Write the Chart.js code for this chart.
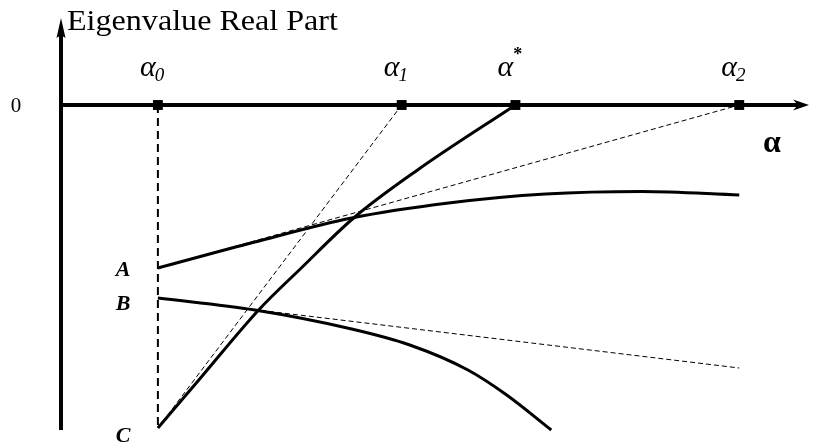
<!DOCTYPE html>
<html>
<head>
<meta charset="utf-8">
<script src="https://cdn.jsdelivr.net/npm/chart.js@4.4.0/dist/chart.umd.min.js"></script>
<style>
  html, body { margin: 0; padding: 0; background: #fff; }
  #wrap { width: 816px; height: 448px; }
</style>
</head>
<body>
<div id="wrap"><canvas id="eigChart"></canvas></div>
<script>
// critical values of alpha on the horizontal axis
const alphaMarks = [1.0, 2.258, 2.845, 4.0];
const alphaIndex = ["0", "1", "*", "2"];

// branch A (starts at A, levels off)
const alphaA = [1.0, 1.5, 2.0, 2.5, 3.0, 3.5, 4.0];
const realA = [-1.63, -1.37, -1.13, -0.98, -0.89, -0.865, -0.90];

// branch B (starts at B, falls away)
const alphaB = [1.0, 1.5, 2.0, 2.3, 2.6, 2.8, 3.03];
const realB = [-1.93, -2.05, -2.24, -2.40, -2.65, -2.90, -3.25];

// branch C (starts at C, crosses zero at alpha*)
const alphaC = [1.0, 1.22, 1.52, 1.74, 2.01, 2.34, 2.845];
const realC = [-3.23, -2.73, -2.05, -1.63, -1.13, -0.65, 0];

// linear estimates from the starting slopes
const tangentA = { alpha: [1.0, 4.0], real: [-1.63, 0] };
const tangentB = { alpha: [1.0, 4.0], real: [-1.93, -2.63] };
const tangentC = { alpha: [1.0, 2.258], real: [-3.23, 0] };

const startLabels = ["A", "B", "C"];

const pts = (xs, ys) => xs.map((x, i) => ({ x: x, y: ys[i] }));

const serif = "'Liberation Serif', 'Times New Roman', serif";

function curve(data) {
  return {
    data: data,
    showLine: true,
    borderColor: "#000",
    borderWidth: 3,
    pointRadius: 0,
    cubicInterpolationMode: "monotone",
    clip: false
  };
}

function dashed(data, width, dash) {
  return {
    data: data,
    showLine: true,
    borderColor: "#000",
    borderWidth: width,
    borderDash: dash,
    pointRadius: 0,
    tension: 0,
    clip: false
  };
}

// axes with arrow heads, plus all the text labels
const axesPlugin = {
  id: "axes",
  beforeDatasetsDraw(chart) {
    const { ctx, scales: { x, y } } = chart;
    const x0 = x.getPixelForValue(0.5);
    const yZero = y.getPixelForValue(0);
    const xEnd = x.getPixelForValue(4.36);
    const yTop = y.getPixelForValue(0.87);
    const yBottom = y.getPixelForValue(-3.25);
    ctx.save();
    ctx.strokeStyle = "#000";
    ctx.fillStyle = "#000";
    ctx.lineWidth = 4;
    ctx.beginPath();
    ctx.moveTo(x0, yBottom);
    ctx.lineTo(x0, yTop + 10);
    ctx.moveTo(x0, yZero);
    ctx.lineTo(xEnd - 8, yZero);
    ctx.stroke();
    // vertical arrow
    ctx.beginPath();
    ctx.moveTo(x0, yTop);
    ctx.lineTo(x0 + 4.5, yTop + 20);
    ctx.lineTo(x0, yTop + 17);
    ctx.lineTo(x0 - 4.5, yTop + 20);
    ctx.closePath();
    ctx.fill();
    // horizontal arrow
    ctx.beginPath();
    ctx.moveTo(xEnd, yZero);
    ctx.lineTo(xEnd - 16, yZero - 5.5);
    ctx.lineTo(xEnd - 11, yZero);
    ctx.lineTo(xEnd - 16, yZero + 5.5);
    ctx.closePath();
    ctx.fill();
    ctx.restore();
  },
  afterDraw(chart) {
    const { ctx, scales: { x, y } } = chart;
    const yZero = y.getPixelForValue(0);
    ctx.save();
    ctx.fillStyle = "#000";
    ctx.textBaseline = "alphabetic";

    ctx.save();
    ctx.font = "30px " + serif;
    ctx.textAlign = "left";
    ctx.translate(67, 30);
    ctx.scale(1.07, 1);
    ctx.fillText("Eigenvalue Real Part", 0, 0);
    ctx.restore();

    ctx.font = "21px " + serif;
    ctx.textAlign = "center";
    ctx.fillText("0", 16, yZero + 7);

    // alpha labels over the marks
    alphaMarks.forEach((a, i) => {
      const px = x.getPixelForValue(a);
      ctx.font = "italic 30px " + serif;
      const w = ctx.measureText("\u03b1").width;
      const cx = px - 10;
      ctx.textAlign = "center";
      ctx.fillText("\u03b1", cx, 76);
      ctx.textAlign = "left";
      if (alphaIndex[i] === "*") {
        ctx.font = "bold 18px " + serif;
        ctx.fillText("*", cx + w / 2, 60);
      } else {
        ctx.font = "italic 19px " + serif;
        ctx.fillText(alphaIndex[i], cx + w / 2 - 1, 81);
      }
    });

    ctx.font = "bold 32px " + serif;
    ctx.textAlign = "center";
    ctx.fillText("\u03b1", 772, 152);

    // start-point letters beside the dashed line
    const starts = [realA[0], realB[0], realC[0]];
    const offs = [8, 12, 14];
    ctx.font = "bold italic 22px " + serif;
    starts.forEach((r, i) => {
      ctx.fillText(startLabels[i], 123, y.getPixelForValue(r) + offs[i]);
    });
    ctx.restore();
  }
};

const chart = new Chart(document.getElementById("eigChart"), {
  type: "scatter",
  data: {
    datasets: [
      dashed([{ x: alphaMarks[0], y: 0 }, { x: alphaMarks[0], y: realC[0] }], 2, [8, 5]),
      dashed(pts(tangentC.alpha, tangentC.real), 1, [5, 3]),
      dashed(pts(tangentA.alpha, tangentA.real), 1, [5, 3]),
      dashed(pts(tangentB.alpha, tangentB.real), 1, [5, 3]),
      curve(pts(alphaA, realA)),
      curve(pts(alphaB, realB)),
      curve(pts(alphaC, realC)),
      {
        data: alphaMarks.map(a => ({ x: a, y: 0 })),
        pointStyle: "rect",
        pointRadius: 7,
        pointBackgroundColor: "#000",
        pointBorderWidth: 0,
        showLine: false,
        clip: false
      }
    ]
  },
  options: {
    responsive: true,
    maintainAspectRatio: false,
    animation: false,
    layout: { padding: { left: 61, right: 0, top: 15, bottom: 13 } },
    scales: {
      x: { type: "linear", min: 0.5, max: 4.36, display: false },
      y: { type: "linear", min: -3.3, max: 0.9, display: false }
    },
    plugins: {
      legend: { display: false },
      tooltip: { enabled: false }
    }
  },
  plugins: [axesPlugin]
});
</script>
</body>
</html>
